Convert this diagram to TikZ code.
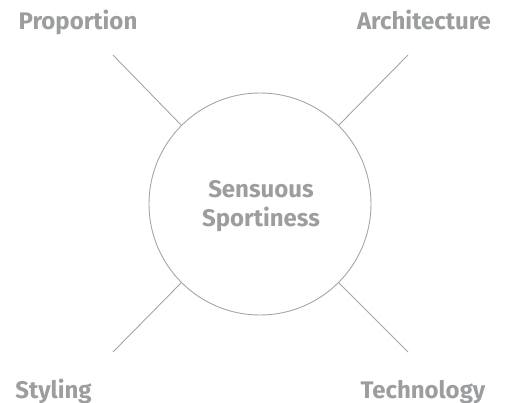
\documentclass[tikz,border=0pt]{standalone}
\usepackage{fontspec}
\setmainfont{Fira Sans}
\begin{document}
\begin{tikzpicture}[x=1pt,y=-1pt,
  lbl/.style={font=\fontsize{24}{29}\selectfont\bfseries, text=txtgray, inner sep=0pt, anchor=base},
  conn/.style={draw=linegray, line width=0.9pt}]
\definecolor{txtgray}{RGB}{155,157,159}
\definecolor{linegray}{RGB}{165,165,165}
\useasboundingbox (0,0) rectangle (505,403);
\node[circle, draw=linegray, line width=0.9pt, minimum size=222pt, inner sep=0pt] (c) at (260,204) {};
\node[lbl] (t1) at (261,197.5) {Sensuous};
\node[lbl] (t2) at (261,226.5) {Sportiness};
\node[lbl] (p) at (78,30) {Proportion};
\node[lbl] (a) at (424,30) {Architecture};
\node[lbl] (s) at (53.5,398) {Styling};
\node[lbl] (te) at (423,398) {Technology};
\coordinate (pe) at (113,55);
\coordinate (ae) at (408,55);
\coordinate (se) at (113,352);
\coordinate (tee) at (408,352);
\draw[conn] (c.135) -- (pe);
\draw[conn] (c.45) -- (ae);
\draw[conn] (c.225) -- (se);
\draw[conn] (c.-45) -- (tee);
\end{tikzpicture}
\end{document}
